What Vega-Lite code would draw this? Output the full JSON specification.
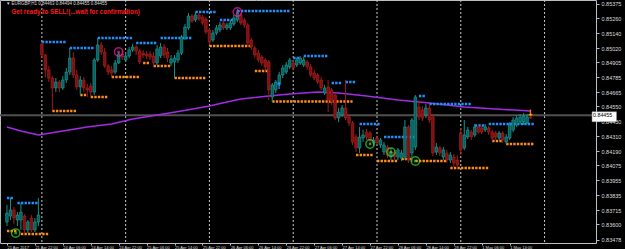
{
  "$schema": "https://vega.github.io/schema/vega-lite/v6.json",
  "width": 596,
  "height": 243,
  "autosize": "none",
  "padding": {"left": 0, "top": 0, "right": 29, "bottom": 6},
  "background": "black",
  "resolve": {"axis": {"x": "independent", "y": "independent"}},
  "config": {
    "view": {"stroke": "#bdbdbd", "strokeWidth": 1},
    "axis": {"labelFont": "Liberation Sans", "labelFontSize": 5.5, "labelColor": "#dcdcdc", "tickColor": "#bdbdbd", "tickSize": 3, "domain": false, "grid": false, "labelOverlap": false, "labelBound": false}
  },
  "datasets": {
    "candles": [
      {"i":0,"o":0.83620,"h":0.83757,"l":0.83588,"c":0.83692},
      {"i":1,"o":0.83668,"h":0.83813,"l":0.83636,"c":0.83717},
      {"i":2,"o":0.83717,"h":0.83741,"l":0.83604,"c":0.83652},
      {"i":3,"o":0.83636,"h":0.83700,"l":0.83588,"c":0.83676},
      {"i":4,"o":0.83636,"h":0.83773,"l":0.83556,"c":0.83700},
      {"i":5,"o":0.83668,"h":0.83684,"l":0.83531,"c":0.83556},
      {"i":6,"o":0.83556,"h":0.83636,"l":0.83531,"c":0.83620},
      {"i":7,"o":0.83652,"h":0.83676,"l":0.83539,"c":0.83556},
      {"i":8,"o":0.83556,"h":0.83652,"l":0.83539,"c":0.83620},
      {"i":9,"o":0.83620,"h":0.83813,"l":0.83588,"c":0.83676},
      {"i":10,"o":0.85053,"h":0.85069,"l":0.84940,"c":0.84964},
      {"i":11,"o":0.84964,"h":0.84972,"l":0.84787,"c":0.84844},
      {"i":12,"o":0.84844,"h":0.84876,"l":0.84747,"c":0.84779},
      {"i":13,"o":0.84779,"h":0.84795,"l":0.84522,"c":0.84699},
      {"i":14,"o":0.84699,"h":0.84779,"l":0.84666,"c":0.84747},
      {"i":15,"o":0.84747,"h":0.84763,"l":0.84666,"c":0.84699},
      {"i":16,"o":0.84699,"h":0.84795,"l":0.84683,"c":0.84763},
      {"i":17,"o":0.84763,"h":0.84860,"l":0.84739,"c":0.84827},
      {"i":18,"o":0.84827,"h":0.85021,"l":0.84803,"c":0.84940},
      {"i":19,"o":0.84940,"h":0.84988,"l":0.84779,"c":0.84803},
      {"i":20,"o":0.84803,"h":0.84844,"l":0.84683,"c":0.84707},
      {"i":21,"o":0.84707,"h":0.84795,"l":0.84642,"c":0.84763},
      {"i":22,"o":0.84763,"h":0.84787,"l":0.84666,"c":0.84699},
      {"i":23,"o":0.84699,"h":0.84731,"l":0.84626,"c":0.84683},
      {"i":24,"o":0.84715,"h":0.84739,"l":0.84634,"c":0.84666},
      {"i":25,"o":0.84666,"h":0.84940,"l":0.84642,"c":0.84924},
      {"i":26,"o":0.84924,"h":0.85101,"l":0.84908,"c":0.85045},
      {"i":27,"o":0.85045,"h":0.85069,"l":0.84964,"c":0.84988},
      {"i":28,"o":0.84988,"h":0.85021,"l":0.84860,"c":0.84876},
      {"i":29,"o":0.84876,"h":0.84892,"l":0.84803,"c":0.84827},
      {"i":30,"o":0.84844,"h":0.84876,"l":0.84787,"c":0.84819},
      {"i":31,"o":0.84827,"h":0.84924,"l":0.84811,"c":0.84900},
      {"i":32,"o":0.84900,"h":0.84988,"l":0.84892,"c":0.84972},
      {"i":33,"o":0.84972,"h":0.85005,"l":0.84924,"c":0.84948},
      {"i":34,"o":0.84924,"h":0.84988,"l":0.84908,"c":0.84956},
      {"i":35,"o":0.84956,"h":0.85029,"l":0.84940,"c":0.85005},
      {"i":36,"o":0.85005,"h":0.85053,"l":0.84988,"c":0.85029},
      {"i":37,"o":0.85029,"h":0.85045,"l":0.84964,"c":0.84996},
      {"i":38,"o":0.84996,"h":0.85013,"l":0.84892,"c":0.84908},
      {"i":39,"o":0.84980,"h":0.85005,"l":0.84940,"c":0.84964},
      {"i":40,"o":0.84972,"h":0.84996,"l":0.84932,"c":0.84956},
      {"i":41,"o":0.84972,"h":0.84996,"l":0.84924,"c":0.84948},
      {"i":42,"o":0.84956,"h":0.84988,"l":0.84876,"c":0.84900},
      {"i":43,"o":0.84900,"h":0.85045,"l":0.84884,"c":0.85013},
      {"i":44,"o":0.84956,"h":0.85061,"l":0.84940,"c":0.85029},
      {"i":45,"o":0.85029,"h":0.85053,"l":0.84940,"c":0.84964},
      {"i":46,"o":0.84988,"h":0.85021,"l":0.84908,"c":0.84940},
      {"i":47,"o":0.84900,"h":0.84964,"l":0.84876,"c":0.84932},
      {"i":48,"o":0.84908,"h":0.84964,"l":0.84779,"c":0.84940},
      {"i":49,"o":0.84924,"h":0.85005,"l":0.84900,"c":0.84980},
      {"i":50,"o":0.84980,"h":0.85125,"l":0.84964,"c":0.85109},
      {"i":51,"o":0.85101,"h":0.85214,"l":0.85085,"c":0.85190},
      {"i":52,"o":0.85182,"h":0.85302,"l":0.85166,"c":0.85278},
      {"i":53,"o":0.85278,"h":0.85294,"l":0.85222,"c":0.85238},
      {"i":54,"o":0.85246,"h":0.85310,"l":0.85230,"c":0.85286},
      {"i":55,"o":0.85286,"h":0.85302,"l":0.85238,"c":0.85254},
      {"i":56,"o":0.85270,"h":0.85286,"l":0.85206,"c":0.85222},
      {"i":57,"o":0.85254,"h":0.85270,"l":0.85133,"c":0.85149},
      {"i":58,"o":0.85166,"h":0.85182,"l":0.85045,"c":0.85069},
      {"i":59,"o":0.85085,"h":0.85166,"l":0.85069,"c":0.85141},
      {"i":60,"o":0.85141,"h":0.85206,"l":0.85125,"c":0.85182},
      {"i":61,"o":0.85166,"h":0.85230,"l":0.85149,"c":0.85206},
      {"i":62,"o":0.85222,"h":0.85238,"l":0.85166,"c":0.85182},
      {"i":63,"o":0.85182,"h":0.85222,"l":0.85166,"c":0.85206},
      {"i":64,"o":0.85182,"h":0.85246,"l":0.85166,"c":0.85222},
      {"i":65,"o":0.85214,"h":0.85286,"l":0.85198,"c":0.85262},
      {"i":66,"o":0.85246,"h":0.85335,"l":0.85230,"c":0.85302},
      {"i":67,"o":0.85286,"h":0.85302,"l":0.85206,"c":0.85222},
      {"i":68,"o":0.85246,"h":0.85262,"l":0.85182,"c":0.85206},
      {"i":69,"o":0.85206,"h":0.85222,"l":0.85045,"c":0.85061},
      {"i":70,"o":0.85085,"h":0.85101,"l":0.85005,"c":0.85029},
      {"i":71,"o":0.85021,"h":0.85037,"l":0.84940,"c":0.84964},
      {"i":72,"o":0.84980,"h":0.85005,"l":0.84908,"c":0.84924},
      {"i":73,"o":0.84948,"h":0.84964,"l":0.84876,"c":0.84900},
      {"i":74,"o":0.84924,"h":0.84940,"l":0.84844,"c":0.84868},
      {"i":75,"o":0.84908,"h":0.84924,"l":0.84602,"c":0.84683},
      {"i":76,"o":0.84626,"h":0.84739,"l":0.84586,"c":0.84723},
      {"i":77,"o":0.84683,"h":0.84763,"l":0.84658,"c":0.84747},
      {"i":78,"o":0.84739,"h":0.84827,"l":0.84715,"c":0.84803},
      {"i":79,"o":0.84803,"h":0.84884,"l":0.84779,"c":0.84860},
      {"i":80,"o":0.84827,"h":0.84908,"l":0.84811,"c":0.84884},
      {"i":81,"o":0.84868,"h":0.84940,"l":0.84852,"c":0.84924},
      {"i":82,"o":0.84900,"h":0.84924,"l":0.84844,"c":0.84860},
      {"i":83,"o":0.84884,"h":0.84940,"l":0.84868,"c":0.84924},
      {"i":84,"o":0.84900,"h":0.84956,"l":0.84884,"c":0.84940},
      {"i":85,"o":0.84884,"h":0.84948,"l":0.84868,"c":0.84924},
      {"i":86,"o":0.84908,"h":0.84924,"l":0.84844,"c":0.84868},
      {"i":87,"o":0.84868,"h":0.84892,"l":0.84787,"c":0.84803},
      {"i":88,"o":0.84819,"h":0.84844,"l":0.84763,"c":0.84779},
      {"i":89,"o":0.84803,"h":0.84819,"l":0.84731,"c":0.84747},
      {"i":90,"o":0.84763,"h":0.84787,"l":0.84683,"c":0.84699},
      {"i":91,"o":0.84658,"h":0.84723,"l":0.84642,"c":0.84699},
      {"i":92,"o":0.84707,"h":0.84763,"l":0.84505,"c":0.84602},
      {"i":93,"o":0.84683,"h":0.84699,"l":0.84562,"c":0.84586},
      {"i":94,"o":0.84642,"h":0.84658,"l":0.84441,"c":0.84457},
      {"i":95,"o":0.84457,"h":0.84538,"l":0.84425,"c":0.84505},
      {"i":96,"o":0.84481,"h":0.84562,"l":0.84465,"c":0.84538},
      {"i":97,"o":0.84538,"h":0.84763,"l":0.84441,"c":0.84457},
      {"i":98,"o":0.84465,"h":0.84489,"l":0.84393,"c":0.84417},
      {"i":99,"o":0.84417,"h":0.84433,"l":0.84240,"c":0.84264},
      {"i":100,"o":0.84304,"h":0.84328,"l":0.84183,"c":0.84216},
      {"i":101,"o":0.84216,"h":0.84385,"l":0.84175,"c":0.84304},
      {"i":102,"o":0.84296,"h":0.84361,"l":0.84264,"c":0.84320},
      {"i":103,"o":0.84344,"h":0.84369,"l":0.84280,"c":0.84304},
      {"i":104,"o":0.84336,"h":0.84352,"l":0.84256,"c":0.84280},
      {"i":105,"o":0.84256,"h":0.84304,"l":0.84232,"c":0.84280},
      {"i":106,"o":0.84296,"h":0.84312,"l":0.84240,"c":0.84256},
      {"i":107,"o":0.84240,"h":0.84296,"l":0.84216,"c":0.84280},
      {"i":108,"o":0.84183,"h":0.84264,"l":0.84159,"c":0.84240},
      {"i":109,"o":0.84224,"h":0.84240,"l":0.84135,"c":0.84159},
      {"i":110,"o":0.84143,"h":0.84216,"l":0.84119,"c":0.84183},
      {"i":111,"o":0.84183,"h":0.84200,"l":0.84119,"c":0.84143},
      {"i":112,"o":0.84143,"h":0.84216,"l":0.84119,"c":0.84200},
      {"i":113,"o":0.84135,"h":0.84200,"l":0.84111,"c":0.84175},
      {"i":114,"o":0.84143,"h":0.84441,"l":0.84119,"c":0.84385},
      {"i":115,"o":0.84385,"h":0.84401,"l":0.84095,"c":0.84119},
      {"i":116,"o":0.84175,"h":0.84457,"l":0.84103,"c":0.84441},
      {"i":117,"o":0.84224,"h":0.84642,"l":0.84200,"c":0.84626},
      {"i":118,"o":0.84546,"h":0.84602,"l":0.84441,"c":0.84465},
      {"i":119,"o":0.84522,"h":0.84554,"l":0.84433,"c":0.84457},
      {"i":120,"o":0.84481,"h":0.84570,"l":0.84457,"c":0.84538},
      {"i":121,"o":0.84538,"h":0.84570,"l":0.84417,"c":0.84441},
      {"i":122,"o":0.84465,"h":0.84489,"l":0.84151,"c":0.84175},
      {"i":123,"o":0.84183,"h":0.84256,"l":0.84159,"c":0.84224},
      {"i":124,"o":0.84216,"h":0.84232,"l":0.84151,"c":0.84175},
      {"i":125,"o":0.84143,"h":0.84224,"l":0.84119,"c":0.84200},
      {"i":126,"o":0.84175,"h":0.84200,"l":0.84095,"c":0.84119},
      {"i":127,"o":0.84119,"h":0.84183,"l":0.84095,"c":0.84159},
      {"i":128,"o":0.84143,"h":0.84167,"l":0.84063,"c":0.84095},
      {"i":129,"o":0.84119,"h":0.84159,"l":0.84055,"c":0.84079},
      {"i":130,"o":0.84336,"h":0.84377,"l":0.84159,"c":0.84200},
      {"i":131,"o":0.84216,"h":0.84441,"l":0.84200,"c":0.84320},
      {"i":132,"o":0.84304,"h":0.84385,"l":0.84288,"c":0.84361},
      {"i":133,"o":0.84344,"h":0.84361,"l":0.84280,"c":0.84304},
      {"i":134,"o":0.84320,"h":0.84409,"l":0.84304,"c":0.84385},
      {"i":135,"o":0.84385,"h":0.84401,"l":0.84328,"c":0.84344},
      {"i":136,"o":0.84377,"h":0.84393,"l":0.84328,"c":0.84344},
      {"i":137,"o":0.84361,"h":0.84409,"l":0.84344,"c":0.84385},
      {"i":138,"o":0.84377,"h":0.84393,"l":0.84320,"c":0.84344},
      {"i":139,"o":0.84344,"h":0.84361,"l":0.84272,"c":0.84296},
      {"i":140,"o":0.84336,"h":0.84352,"l":0.84280,"c":0.84304},
      {"i":141,"o":0.84296,"h":0.84352,"l":0.84280,"c":0.84336},
      {"i":142,"o":0.84336,"h":0.84352,"l":0.84256,"c":0.84280},
      {"i":143,"o":0.84264,"h":0.84328,"l":0.84248,"c":0.84304},
      {"i":144,"o":0.84296,"h":0.84425,"l":0.84280,"c":0.84401},
      {"i":145,"o":0.84361,"h":0.84465,"l":0.84344,"c":0.84441},
      {"i":146,"o":0.84401,"h":0.84481,"l":0.84385,"c":0.84457},
      {"i":147,"o":0.84425,"h":0.84489,"l":0.84409,"c":0.84465},
      {"i":148,"o":0.84425,"h":0.84497,"l":0.84401,"c":0.84473},
      {"i":149,"o":0.84417,"h":0.84489,"l":0.84409,"c":0.84465},
      {"i":150,"o":0.84463,"h":0.84494,"l":0.84455,"c":0.84455}
    ],
    "levels": [
      {"t":"res","i0":0,"i1":2,"p":0.83813},
      {"t":"res","i0":3,"i1":9,"p":0.83773},
      {"t":"res","i0":10,"i1":17,"p":0.85069},
      {"t":"res","i0":18,"i1":25,"p":0.85021},
      {"t":"res","i0":26,"i1":36,"p":0.85101},
      {"t":"res","i0":37,"i1":43,"p":0.85061},
      {"t":"res","i0":44,"i1":53,"p":0.85101},
      {"t":"res","i0":54,"i1":60,"p":0.85310},
      {"t":"res","i0":61,"i1":65,"p":0.85246},
      {"t":"res","i0":66,"i1":81,"p":0.85318},
      {"t":"res","i0":82,"i1":84,"p":0.84940},
      {"t":"res","i0":85,"i1":92,"p":0.84956},
      {"t":"res","i0":93,"i1":96,"p":0.84739},
      {"t":"res","i0":97,"i1":100,"p":0.84747},
      {"t":"res","i0":101,"i1":107,"p":0.84409},
      {"t":"res","i0":108,"i1":117,"p":0.84304},
      {"t":"res","i0":118,"i1":120,"p":0.84634},
      {"t":"res","i0":121,"i1":133,"p":0.84570},
      {"t":"res","i0":134,"i1":137,"p":0.84397},
      {"t":"res","i0":138,"i1":151,"p":0.84409},
      {"t":"sup","i0":0,"i1":3,"p":0.83547},
      {"t":"sup","i0":4,"i1":12,"p":0.83523},
      {"t":"sup","i0":13,"i1":20,"p":0.84513},
      {"t":"sup","i0":21,"i1":23,"p":0.84642},
      {"t":"sup","i0":24,"i1":29,"p":0.84626},
      {"t":"sup","i0":30,"i1":38,"p":0.84787},
      {"t":"sup","i0":39,"i1":41,"p":0.84900},
      {"t":"sup","i0":42,"i1":47,"p":0.84876},
      {"t":"sup","i0":48,"i1":57,"p":0.84779},
      {"t":"sup","i0":58,"i1":70,"p":0.85037},
      {"t":"sup","i0":71,"i1":75,"p":0.84835},
      {"t":"sup","i0":76,"i1":99,"p":0.84590},
      {"t":"sup","i0":100,"i1":105,"p":0.84159},
      {"t":"sup","i0":106,"i1":112,"p":0.84111},
      {"t":"sup","i0":113,"i1":116,"p":0.84127},
      {"t":"sup","i0":117,"i1":126,"p":0.84111},
      {"t":"sup","i0":127,"i1":138,"p":0.84055},
      {"t":"sup","i0":139,"i1":142,"p":0.84272},
      {"t":"sup","i0":143,"i1":151,"p":0.84248}
    ],
    "ma": [
      {"i":0,"v":0.84385},{"i":4,"v":0.84352},{"i":9,"v":0.84320},{"i":16,"v":0.84352},
      {"i":23,"v":0.84385},{"i":30,"v":0.84409},{"i":36,"v":0.84449},{"i":43,"v":0.84481},
      {"i":50,"v":0.84513},{"i":58,"v":0.84554},{"i":63,"v":0.84586},{"i":67,"v":0.84610},
      {"i":75,"v":0.84634},{"i":81,"v":0.84650},{"i":89,"v":0.84666},{"i":95,"v":0.84658},
      {"i":103,"v":0.84634},{"i":112,"v":0.84602},{"i":121,"v":0.84578},{"i":131,"v":0.84546},
      {"i":140,"v":0.84530},{"i":150,"v":0.84513}
    ],
    "seps": [{"i":10},{"i":34},{"i":58},{"i":82},{"i":106},{"i":130},{"i":154}],
    "circles": [
      {"k":"sell","i":32,"p":0.84988},
      {"k":"sell","i":66,"p":0.85310},
      {"k":"buy","i":2.5,"p":0.83531},
      {"k":"buy","i":104,"p":0.84248},
      {"k":"buy","i":110,"p":0.84183},
      {"k":"buy","i":117,"p":0.84111}
    ],
    "arrows": [
      {"k":"up","i":78,"p":0.84715,"s":"↑"},
      {"k":"down","i":150,"p":0.84497,"s":"↓"}
    ],
    "labels": [
      {"k":"head","i":0.1,"p":0.85375,"s":"▾ EURGBP,H1  0.84463 0.84494 0.84455 0.84455"},
      {"k":"alert","i":1.3,"p":0.85310,"s":"Get ready to SELL!(...wait for confirmation)"}
    ],
    "bid": [{"p":0.84455,"i0":167.6,"i1":174.6,"hi":0.84483,"lo":0.84427,"s":"0.84455"}]
  },
  "layer": [
    {
      "data": {"name": "seps"},
      "mark": {"type": "rule", "color": "#c8c8c8", "strokeWidth": 1, "strokeDash": [2, 2]},
      "encoding": {
        "x": {"field": "i", "type": "quantitative", "scale": {"domain": [-0.56, 167.3], "nice": false, "zero": false},
          "axis": {"orient": "bottom", "values": [0,8,16,24,32,40,48,56,64,72,80,88,96,104,112,120,128,136,144],
            "labelExpr": "['21 Apr 2017','21 Apr 22:00','24 Apr 06:00','24 Apr 14:00','24 Apr 22:00','25 Apr 06:00','25 Apr 14:00','25 Apr 22:00','26 Apr 06:00','26 Apr 14:00','26 Apr 22:00','27 Apr 06:00','27 Apr 14:00','27 Apr 22:00','28 Apr 06:00','28 Apr 14:00','28 Apr 22:00','1 May 06:00','1 May 14:00'][round(datum.value/8)]",
            "labelAlign": "left", "labelBaseline": "top", "labelPadding": 0, "tickSize": 2, "labelFontSize": 4, "labelOverlap": false, "labelBound": false, "labelFlush": false, "title": null}}
      }
    },
    {
      "data": {"name": "bid"},
      "mark": {"type": "rule", "color": "#505050", "strokeWidth": 2, "yOffset": -3},
      "encoding": {
        "y": {"field": "p", "type": "quantitative", "scale": {"domain": [0.83451, 0.85407], "nice": false, "zero": false},
          "axis": {"orient": "right", "values": [0.85375,0.8526,0.8514,0.8502,0.84905,0.84785,0.84665,0.8455,0.8443,0.8431,0.8419,0.84075,0.83955,0.83835,0.83715,0.836,0.83478],
            "format": ".5f", "labelPadding": 2, "tickSize": 3, "labelBaseline": "middle", "labelFontSize": 5.5, "labelOverlap": false, "labelBound": false, "labelFlush": false, "title": null}}
      }
    },
    {
      "data": {"name": "ma"},
      "mark": {"type": "line", "color": "#a12be6", "strokeWidth": 1.6},
      "encoding": {
        "x": {"field": "i", "type": "quantitative", "axis": null},
        "y": {"field": "v", "type": "quantitative", "axis": null}
      }
    },
    {
      "data": {"name": "levels"},
      "transform": [{"filter": "datum.t === 'res'"}],
      "mark": {"type": "rule", "strokeWidth": 2.4, "strokeDash": [2.4, 1.15], "color": "#1e90ff"},
      "encoding": {
        "x": {"field": "i0", "type": "quantitative", "axis": null},
        "x2": {"field": "i1"},
        "y": {"field": "p", "type": "quantitative", "axis": null}
      }
    },
    {
      "data": {"name": "levels"},
      "transform": [{"filter": "datum.t === 'sup'"}],
      "mark": {"type": "rule", "strokeWidth": 2.4, "strokeDash": [2.4, 1.15], "color": "#ff8c1a"},
      "encoding": {
        "x": {"field": "i0", "type": "quantitative", "axis": null},
        "x2": {"field": "i1"},
        "y": {"field": "p", "type": "quantitative", "axis": null}
      }
    },
    {
      "data": {"name": "candles"},
      "mark": {"type": "rule", "strokeWidth": 1},
      "encoding": {
        "x": {"field": "i", "type": "quantitative", "axis": null},
        "y": {"field": "l", "type": "quantitative", "axis": null},
        "y2": {"field": "h"},
        "stroke": {"condition": {"test": "datum.c >= datum.o", "value": "#16918c"}, "value": "#a11b1b"}
      }
    },
    {
      "data": {"name": "candles"},
      "mark": {"type": "bar", "size": 2.6, "strokeWidth": 0.6},
      "encoding": {
        "x": {"field": "i", "type": "quantitative", "axis": null},
        "y": {"field": "o", "type": "quantitative", "axis": null},
        "y2": {"field": "c"},
        "fill": {"condition": {"test": "datum.c >= datum.o", "value": "#0b5f5d"}, "value": "#7c1212"},
        "stroke": {"condition": {"test": "datum.c >= datum.o", "value": "#1aa39e"}, "value": "#b42020"}
      }
    },
    {
      "data": {"name": "circles"},
      "transform": [{"filter": "datum.k === 'sell'"}],
      "mark": {"type": "point", "shape": "circle", "filled": false, "size": 70, "strokeWidth": 1.5, "color": "#ff1aa8"},
      "encoding": {
        "x": {"field": "i", "type": "quantitative", "axis": null},
        "y": {"field": "p", "type": "quantitative", "axis": null}
      }
    },
    {
      "data": {"name": "circles"},
      "transform": [{"filter": "datum.k === 'buy'"}],
      "mark": {"type": "point", "shape": "circle", "filled": false, "size": 70, "strokeWidth": 1.5, "color": "#3ddc2e"},
      "encoding": {
        "x": {"field": "i", "type": "quantitative", "axis": null},
        "y": {"field": "p", "type": "quantitative", "axis": null}
      }
    },
    {
      "data": {"name": "circles"},
      "mark": {"type": "point", "shape": "square", "filled": true, "size": 6},
      "encoding": {
        "x": {"field": "i", "type": "quantitative", "axis": null},
        "y": {"field": "p", "type": "quantitative", "axis": null},
        "fill": {"condition": {"test": "datum.k === 'sell'", "value": "#ff1aa8"}, "value": "#3ddc2e"}
      }
    },
    {
      "data": {"name": "arrows"},
      "mark": {"type": "text", "font": "DejaVu Sans", "fontSize": 9, "fontWeight": "bold", "baseline": "middle", "align": "center"},
      "encoding": {
        "x": {"field": "i", "type": "quantitative", "axis": null},
        "y": {"field": "p", "type": "quantitative", "axis": null},
        "text": {"field": "s"},
        "fill": {"condition": {"test": "datum.k === 'up'", "value": "#2e9bff"}, "value": "#ff9a1a"}
      }
    },
    {
      "data": {"name": "labels"},
      "transform": [{"filter": "datum.k === 'head'"}],
      "mark": {"type": "text", "align": "left", "baseline": "middle", "font": "Liberation Sans", "fontSize": 4.5, "color": "#d8d8d8"},
      "encoding": {
        "x": {"field": "i", "type": "quantitative", "axis": null},
        "y": {"field": "p", "type": "quantitative", "axis": null},
        "text": {"field": "s"}
      }
    },
    {
      "data": {"name": "labels"},
      "transform": [{"filter": "datum.k === 'alert'"}],
      "mark": {"type": "text", "align": "left", "baseline": "middle", "font": "Liberation Sans", "fontSize": 6.3, "fontWeight": "bold", "color": "#ff1a1a"},
      "encoding": {
        "x": {"field": "i", "type": "quantitative", "axis": null},
        "y": {"field": "p", "type": "quantitative", "axis": null},
        "text": {"field": "s"}
      }
    },
    {
      "data": {"name": "bid"},
      "mark": {"type": "rect", "fill": "#ffffff", "stroke": "#9a9a9a", "strokeWidth": 0.5, "yOffset": -3},
      "encoding": {
        "x": {"field": "i0", "type": "quantitative", "axis": null},
        "x2": {"field": "i1"},
        "y": {"field": "hi", "type": "quantitative", "axis": null},
        "y2": {"field": "lo"}
      }
    },
    {
      "data": {"name": "bid"},
      "mark": {"type": "text", "align": "left", "baseline": "middle", "fontSize": 5.3, "font": "Liberation Sans", "color": "#000000", "dx": 1, "yOffset": -3},
      "encoding": {
        "x": {"field": "i0", "type": "quantitative", "axis": null},
        "y": {"field": "p", "type": "quantitative", "axis": null},
        "text": {"field": "s"}
      }
    }
  ]
}
